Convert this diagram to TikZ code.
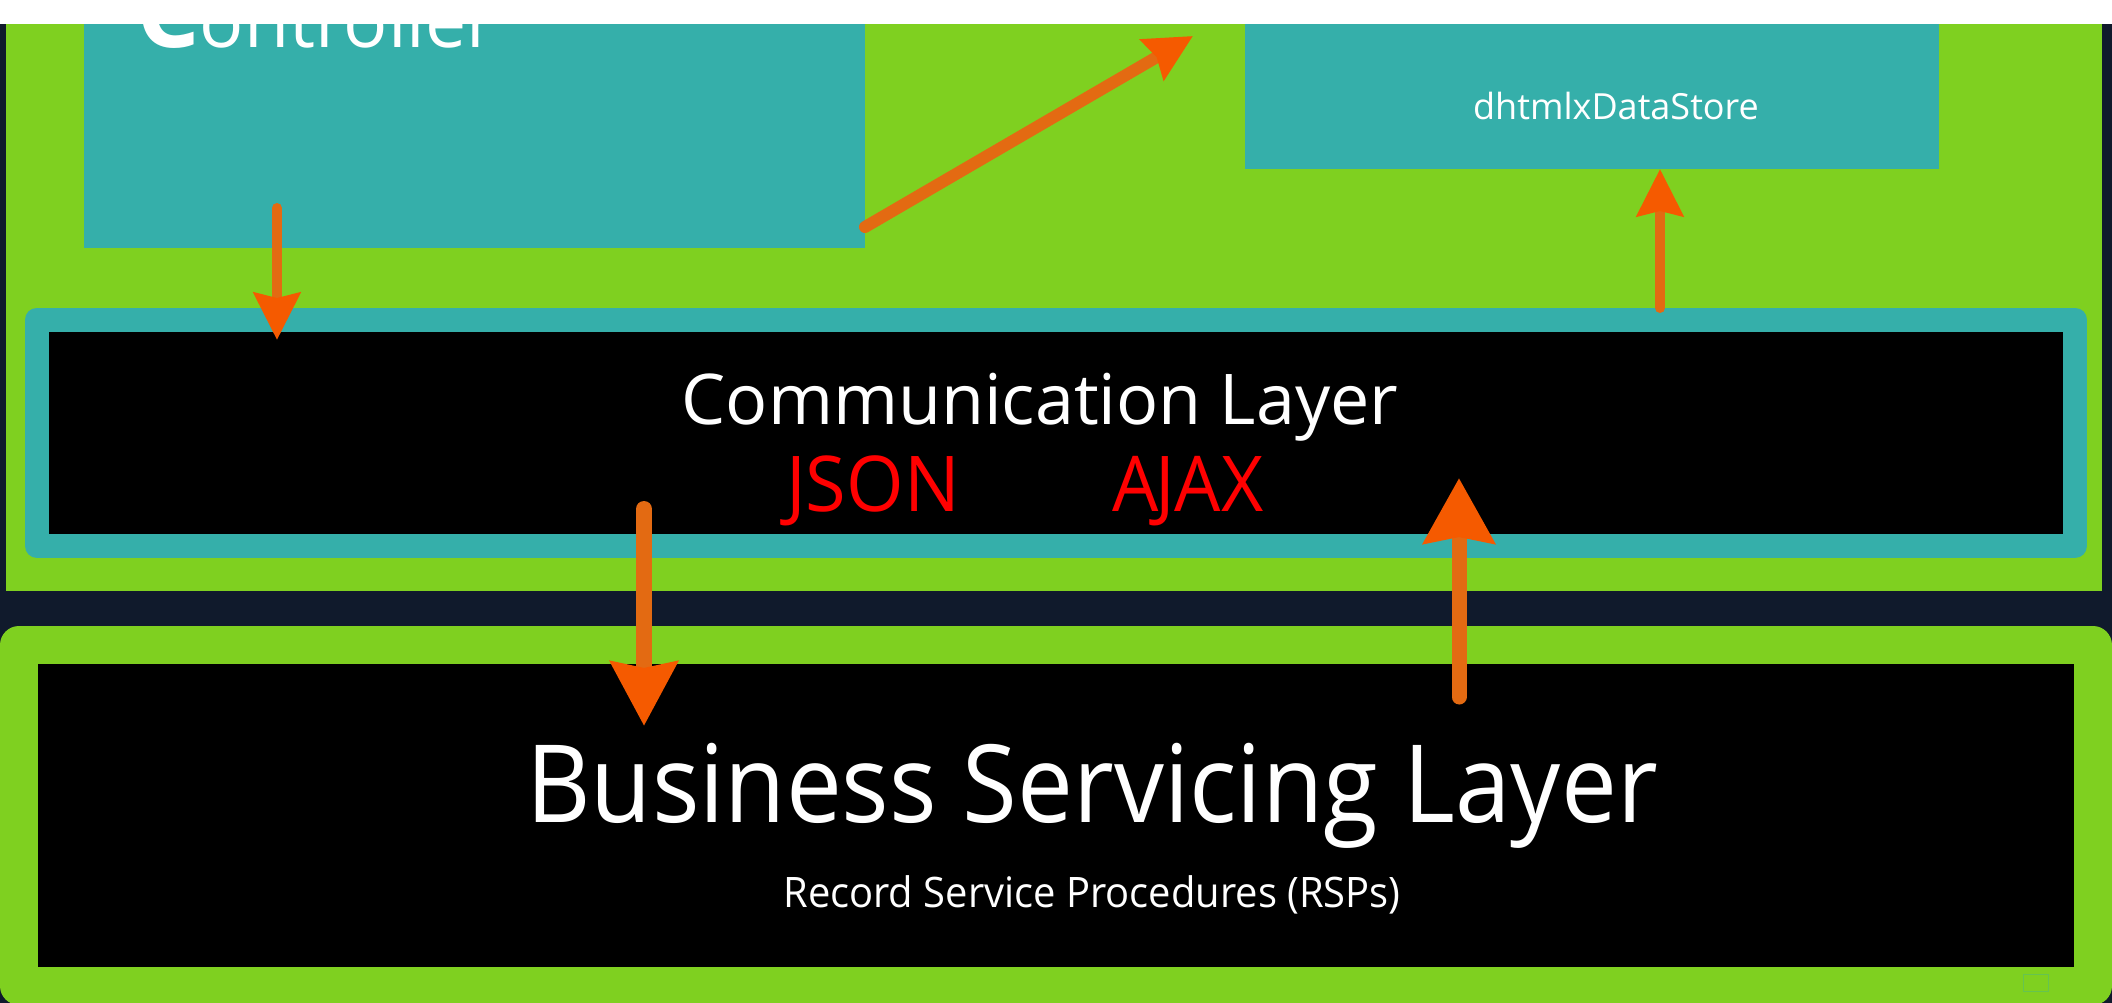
\documentclass[tikz,border=0pt]{standalone}
\usepackage{fontspec}
\setmainfont{Open Sans}
\usetikzlibrary{positioning}
\usetikzlibrary{calc}
\usetikzlibrary{arrows.meta}
\definecolor{slide}{HTML}{101A2C}
\definecolor{limepanel}{HTML}{7FD020}
\definecolor{tealbox}{HTML}{35AFAA}
\definecolor{flowstem}{HTML}{E36A12}
\definecolor{flowhead}{HTML}{F55A00}
\newcommand{\fs}[1]{\fontsize{#1}{#1}\selectfont}
\newcommand{\narrow}[2]{\scalebox{#1}[1]{#2}}
\tikzset{
    block/.style = {rectangle, inner sep=0pt, outer sep=0pt, anchor=north west},
    box/.style = {block, fill=tealbox},
    layer/.style = {block, fill=black, line join=round},
    boxtext/.style = {inner sep=0pt, anchor=base, text=white},
    flow/.style = {draw=flowstem, line cap=round},
    smallflow/.style = {flow, line width=10pt, -{Stealth[length=47pt,width=46pt,inset=5pt,color=flowhead]}},
    bigflow/.style = {flow, line width=16pt, -{Stealth[length=64pt,width=66pt,inset=6pt,color=flowhead]}}}

\begin{document}
\begin{tikzpicture}[x=1pt,y=-1pt]
        \useasboundingbox (0,0) rectangle (2112,1003);
        \clip (0,0) rectangle (2112,1003);
        \fill[slide] (0,0) rectangle (2112,1003);
        % client side
        \path (6,-20) node[block, fill=limepanel, minimum width=2096pt, minimum height=611pt] (panel) {}
        (84,-60) node[box, minimum width=781pt, minimum height=308pt] (ctrl) {}
        (1245,-60) node[box, minimum width=694pt, minimum height=229pt] (store) {}
        (37,319.5) node[layer, draw=tealbox, line width=24pt, minimum width=2038pt, minimum height=226.5pt] (comm) {};
        % server side
        \path (19,645) node[layer, draw=limepanel, line width=38pt, minimum width=2074pt, minimum height=341pt] (biz) {};
        \path (136,48) node[boxtext, anchor=base west] (ctrl-text) {{\fs{100}\bfseries C}\fs{73.5}ontroller}
        (1616,120) node[boxtext, font=\fs{36}] (store-text) {dhtmlxDataStore}
        (1040,424) node[boxtext, font=\fs{70}] (comm-text) {Communication Layer}
        (873,511) node[boxtext, text=red, font=\fs{77}] (json) {\narrow{.96}{JSON}}
        (1188,511) node[boxtext, text=red, font=\fs{77}] (ajax) {\narrow{.95}{A\kern-4pt JAX}}
        (1092,822) node[boxtext, font=\fs{108}] (biz-text) {\narrow{.923}{Business Servicing Layer}}
        (1092,907) node[boxtext, font=\fs{42}] (rsp) {\narrow{.95}{Record Service Procedures (RSPs)}};
        \draw[tealbox, opacity=.35, line width=1pt] (2023,974) rectangle (2048,991);
        % arrows
        \coordinate (down0) at ($(ctrl.south west)+(193,-40)$);
        \coordinate (down1) at ($(comm.north west)+(240,20.5)$);
        \coordinate (out0) at ($(ctrl.south east)+(0,-21)$);
        \coordinate (out1) at ($(store.south west)+(-52,-133)$);
        \coordinate (up0) at ($(comm.north west)+(1623,-11.5)$);
        \coordinate (down2) at ($(comm.north west)+(607,189.5)$);
        \coordinate (down3) at ($(biz.north west)+(625,81)$);
        \coordinate (up2) at ($(biz.north west)+(1440,52)$);
        \coordinate (up3) at ($(comm.north west)+(1422,158.5)$);
        \draw[smallflow] (down0) -- (down1);
        \draw[smallflow, line width=12pt] (out0) -- (out1);
        \draw[smallflow] (up0) -- (store.south -| up0);
        \draw[bigflow] (down2) -- (down3);
        \draw[bigflow, line width=15pt, -{Stealth[length=65pt,width=70pt,inset=6pt,color=flowhead]}] (up2) -- (up3);
        \fill[white] (0,0) rectangle (2112,24);
    \end{tikzpicture}
\end{document}
